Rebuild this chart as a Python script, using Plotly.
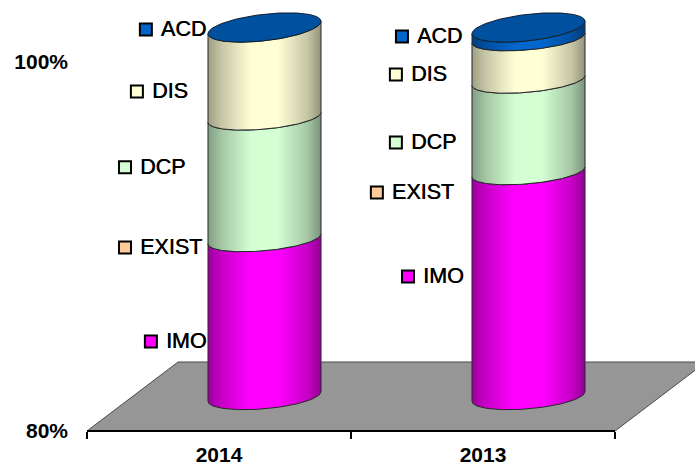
import numpy as np
import plotly.graph_objects as go

# Stacked share of each component per year (percent)
years = ["2014", "2013"]
series_names = ["IMO", "EXIST", "DCP", "DIS", "ACD"]
imo = [88.54, 92.17]
exist = [0.0, 0.0]
dcp = [6.59, 4.96]
dis = [4.87, 2.30]
acd = [0.0, 0.57]

colors = ["#FF00FF", "#FFCC99", "#D3FFD3", "#FFFFD5", "#0066CC"]
cap_color = "#0050A0"

# Free-floating data labels with their colour keys: (category units, percent)
label_x_2014 = [-0.258, -0.356, -0.356, -0.311, -0.277]
label_y_2014 = [84.85, 89.95, 94.30, 98.40, 101.76]
label_x_2013 = [0.716, 0.598, 0.670, 0.670, 0.693]
label_y_2013 = [88.38, 92.93, 95.64, 99.32, 101.38]

# Plot area fills the whole page; axis scales in pixels
WIDTH, HEIGHT = 695, 466
PX_PER_CATEGORY = 264.0
PX_PER_PERCENT = 18.45
ORIGIN_X = 219.0
ORIGIN_Y = 431.0

x_range = [-ORIGIN_X / PX_PER_CATEGORY, (WIDTH - ORIGIN_X) / PX_PER_CATEGORY]
y_range = [80 + (ORIGIN_Y - HEIGHT) / PX_PER_PERCENT, 80 + ORIGIN_Y / PX_PER_PERCENT]

# Oblique projection of the chart depth
FLOOR_DX = 91 / PX_PER_CATEGORY
FLOOR_DY = 69 / PX_PER_PERCENT
RADIUS_X = 56.5 / PX_PER_CATEGORY
LABEL_GAP = 15 / PX_PER_CATEGORY
LABEL_DROP = 1.5 / PX_PER_PERCENT


def rim_shape(level):
    """Half-height and tilt of a rim: the view opens slightly at both ends."""
    if level >= 99.9:
        return 13.3 / PX_PER_PERCENT, 6.2 / PX_PER_PERCENT
    if level <= 80.0:
        return 12.3 / PX_PER_PERCENT, 4.8 / PX_PER_PERCENT
    return 11.8 / PX_PER_PERCENT, 5.0 / PX_PER_PERCENT


def shade(hex_color, f):
    r, g, b = (int(hex_color[i:i + 2], 16) for i in (1, 3, 5))
    return f"rgb({int(r * f)},{int(g * f)},{int(b * f)})"


def side_gradient(hex_color):
    return dict(
        type="horizontal",
        colorscale=[
            [0.0, shade(hex_color, 0.62)],
            [0.12, shade(hex_color, 0.78)],
            [0.38, shade(hex_color, 1.0)],
            [0.62, shade(hex_color, 1.0)],
            [0.88, shade(hex_color, 0.78)],
            [1.0, shade(hex_color, 0.58)],
        ],
    )


def arc(cat, level, t):
    """Points of a cylinder's tilted elliptical rim at the given stack level."""
    radius_y, tilt = rim_shape(level)
    cx = cat + FLOOR_DX / 2
    cy = level + FLOOR_DY / 2
    return cx + RADIUS_X * np.cos(t), cy + tilt * np.cos(t) + radius_y * np.sin(t)


fig = go.Figure()

# Grey floor, running off the right edge of the page
floor_x = [-0.5, -0.5 + FLOOR_DX, 1.5 + FLOOR_DX, 1.5, -0.5]
floor_y = [80, 80 + FLOOR_DY, 80 + FLOOR_DY, 80, 80]
fig.add_trace(go.Scatter(
    x=floor_x, y=floor_y, mode="lines", fill="toself", fillcolor="#969696",
    line=dict(color="#4A4A4A", width=1), hoverinfo="skip", showlegend=False,
))
fig.add_trace(go.Scatter(
    x=[-0.5, 1.5], y=[80, 80], mode="lines",
    line=dict(color="#000000", width=2), hoverinfo="skip", showlegend=False,
))

# Cylinder segments, bottom to top
stack = [imo, exist, dcp, dis, acd]
front = np.linspace(np.pi, 2 * np.pi, 90)
for cat in range(len(years)):
    level = 80.0
    for name, values, color in zip(series_names, stack, colors):
        value = values[cat] - (80.0 if name == "IMO" else 0.0)
        if value <= 0:
            continue
        lx, ly = arc(cat, level, front)
        ux, uy = arc(cat, level + value, front[::-1])
        fig.add_trace(go.Scatter(
            x=np.r_[lx, ux, lx[0]], y=np.r_[ly, uy, ly[0]],
            mode="lines", fill="toself", fillgradient=side_gradient(color),
            line=dict(color="#26262A", width=1), name=name,
            hoverinfo="skip", showlegend=False,
        ))
        level += value
    t = np.linspace(0, 2 * np.pi, 180)
    cap_x, cap_y = arc(cat, level, t)
    fig.add_trace(go.Scatter(
        x=cap_x, y=cap_y, mode="lines", fill="toself", fillcolor=cap_color,
        line=dict(color="#10202E", width=1), hoverinfo="skip", showlegend=False,
    ))

# Series labels with colour keys
for lx, ly in ((label_x_2014, label_y_2014), (label_x_2013, label_y_2013)):
    fig.add_trace(go.Scatter(
        x=lx, y=ly, mode="markers",
        marker=dict(symbol="square", size=12, color=colors,
                    line=dict(color="#000000", width=2)),
        hoverinfo="skip", showlegend=False, cliponaxis=False,
    ))
    fig.add_trace(go.Scatter(
        x=[v + LABEL_GAP for v in lx], y=[v - LABEL_DROP for v in ly],
        mode="text", text=series_names,
        textposition="middle right",
        textfont=dict(family="Liberation Sans", size=21.5, color="#000000",
                      shadow="0.5px 0 0 #000000"),
        hoverinfo="skip", showlegend=False, cliponaxis=False,
    ))

tick_font = dict(family="Liberation Sans", size=21, color="#000000", weight="bold")
fig.update_layout(
    width=WIDTH, height=HEIGHT,
    margin=dict(l=0, r=0, t=0, b=0),
    paper_bgcolor="#FFFFFF", plot_bgcolor="#FFFFFF",
    showlegend=False,
    xaxis=dict(
        range=x_range, domain=[0, 1], anchor="free",
        position=(HEIGHT - ORIGIN_Y) / HEIGHT,
        tickmode="array", tickvals=[0, 1], ticktext=years, ticks="",
        ticklabelstandoff=9,
        showgrid=False, zeroline=False, showline=False, tickfont=tick_font,
        minor=dict(tickmode="array", tickvals=[-0.5, 0.5, 1.5], ticks="outside",
                   ticklen=7, tickwidth=2, tickcolor="#000000", showgrid=False),
    ),
    yaxis=dict(
        range=y_range, domain=[0, 1], anchor="free", position=68 / WIDTH,
        tickmode="array", tickvals=[80, 100], ticktext=["80%", "100%"], ticks="",
        showgrid=False, zeroline=False, showline=False, tickfont=tick_font,
    ),
)

fig.write_html("out.html")
